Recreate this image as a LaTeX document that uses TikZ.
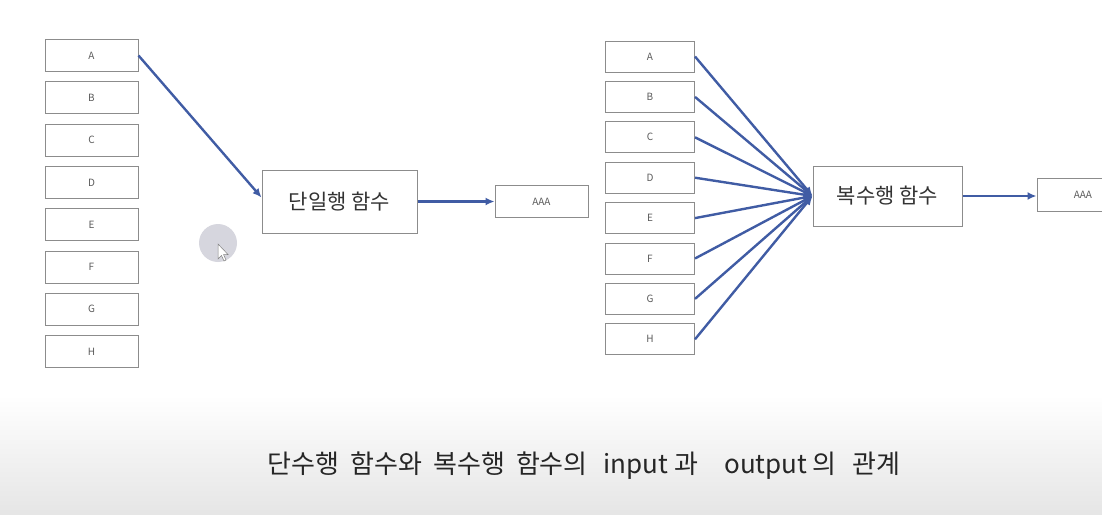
\documentclass[tikz,border=0pt]{standalone}
\usepackage{fontspec}
\setmainfont{Noto Sans CJK KR}
\usetikzlibrary{arrows.meta}
\definecolor{lineblue}{RGB}{64,92,164}
\definecolor{boxgray}{RGB}{140,140,140}
\definecolor{txtgray}{RGB}{90,90,90}
\tikzset{
  smallbox/.style={draw=boxgray, line width=1pt, fill=white, inner sep=0pt, text=txtgray, font=\fontsize{10}{10}\selectfont},
  funcbox/.style={draw=boxgray, line width=1pt, fill=white, inner sep=0pt, text=black!80, font=\fontsize{21}{21}\selectfont},
  conn/.style={draw=lineblue, line width=2.4pt, -{Latex[length=9pt,width=8pt]}},
}
\begin{document}
\begin{tikzpicture}[x=1pt,y=-1pt]
\useasboundingbox (0,0) rectangle (1102,514);
% bottom band
\shade[top color=white, bottom color=black!10] (0,395) rectangle (1102,514);
% cursor highlight
\fill[color={rgb,255:red,214;green,214;blue,222}] (218,243) circle (19pt);
\filldraw[fill=white, draw=gray, line width=0.5pt] (218,244) -- (218,259) -- (221.5,255.5) -- (224,261) -- (226,260) -- (223.5,254.5) -- (228,254.5) -- cycle;
% left column
\foreach \n [count=\i from 0] in {A,B,C,D,E,F,G,H}{
  \node[smallbox, minimum width=93pt, minimum height=32pt] (L\n) at (91.5,{55.5+\i*42.3}) {\n};
}
\node[funcbox, minimum width=155pt, minimum height=63pt] (mid) at (339.5,201.5) {단일행 함수};
\node[smallbox, minimum width=93pt, minimum height=32pt] (out1) at (541.5,201.5) {AAA};
\draw[conn] (LA.east) -- ([yshift=4pt]mid.west);
\draw[conn] (mid.east) -- (out1.west);
% right column
\foreach \n [count=\i from 0] in {A,B,C,D,E,F,G,H}{
  \node[smallbox, minimum width=89pt, minimum height=31pt] (R\n) at (650,{56.5+\i*40.4}) {\n};
}
\node[funcbox, minimum width=149pt, minimum height=60pt] (rbox) at (887.5,196) {복수행 함수};
\node[smallbox, minimum width=92pt, minimum height=33pt] (out2) at (1083,195) {AAA};
\foreach \n in {A,B,C,D,E,F,G,H}{
  \draw[conn] (R\n.east) -- (rbox.west);
}
\draw[conn] (rbox.east) -- (rbox.east -| out2.west);
% caption
\node[font=\fontsize{26}{26}\selectfont, text=black!85, inner sep=0pt] (cap) at (584,466) {\spaceskip=11pt 단수행 함수와 복수행 함수의\hspace{16pt}input\hspace{6pt}과\hspace{26pt}output\hspace{5pt}의\hspace{16pt}관계};
\end{tikzpicture}
\end{document}
